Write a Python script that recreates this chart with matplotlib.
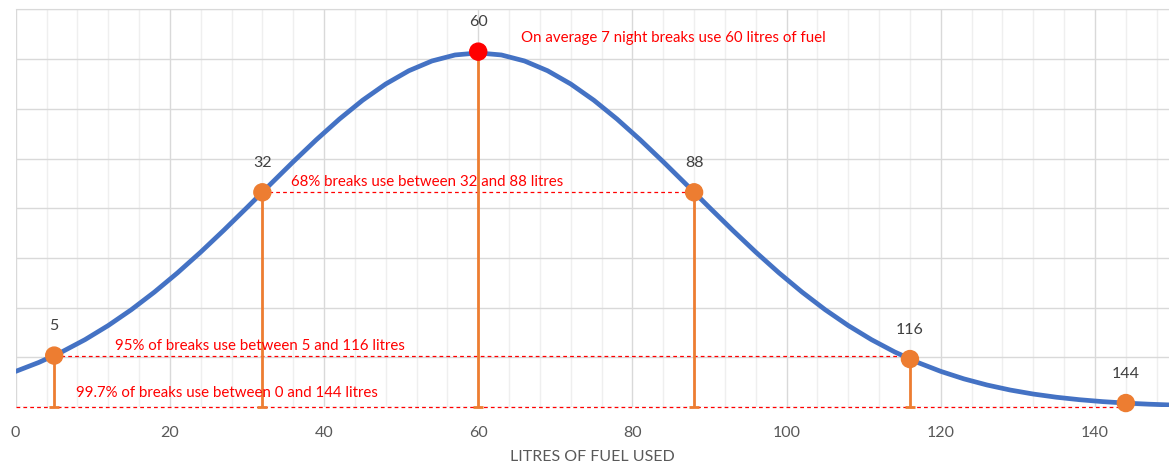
import matplotlib; matplotlib.use("Agg")
import matplotlib.pyplot as plt
from matplotlib.ticker import MultipleLocator

# curve (height in arbitrary density units x1000)
curve_x = [0, 3, 6, 9, 12, 15, 18, 21, 24, 27, 30, 33, 36, 39, 42, 45, 48, 51, 54, 57, 60,
           63, 66, 69, 72, 75, 78, 81, 84, 87, 90, 93, 96, 99, 102, 105, 108, 111, 114, 117, 120,
           123, 126, 129, 132, 135, 138, 141, 144, 147, 150]
curve_y = [1.434, 1.794, 2.219, 2.712, 3.278, 3.916, 4.626, 5.401, 6.234, 7.114, 8.025,
           8.951, 9.868, 10.755, 11.588, 12.344, 12.998, 13.531, 13.925, 14.167, 14.248,
           14.167, 13.925, 13.531, 12.998, 12.344, 11.588, 10.755, 9.868, 8.951, 8.025,
           7.114, 6.234, 5.401, 4.626, 3.916, 3.278, 2.712, 2.219, 1.794, 1.434,
           1.133, 0.886, 0.684, 0.522, 0.394, 0.294, 0.217, 0.158, 0.114, 0.081]

pt_x = [5, 32, 60, 88, 116, 144]
pt_y = [2.07, 8.64, 14.3, 8.64, 1.93, 0.16]
pt_lbl = ["5", "32", "60", "88", "116", "144"]
stem_x = [5, 32, 60, 88, 116]
stem_y = [2.07, 8.64, 14.3, 8.64, 1.93]

notes = ["On average 7 night breaks use 60 litres of fuel",
         "68% breaks use between 32 and 88 litres",
         "95% of breaks use between 5 and 116 litres",
         "99.7% of breaks use between 0 and 144 litres"]
note_x = [65.5, 35.7, 12.9, 7.8]
note_y = [14.85, 9.05, 2.45, 0.55]

# dashed range lines: (x start, x end, y)
range_x0 = [32, 5, 0]
range_x1 = [88, 116, 144]
range_y = [8.64, 2.07, 0]

plt.rcParams['font.family'] = ['Lato', 'DejaVu Sans']
BLUE, ORANGE, RED, GREY = "#4472C4", "#ED7D31", "#FF0000", "#595959"

fig = plt.figure(figsize=(11.69, 4.70), dpi=100)
ax = fig.add_axes([0.0134, 0.134, 0.9866, 0.846])

ax.plot(curve_x, curve_y, color=BLUE, lw=3.4, zorder=3, solid_capstyle="round",
        solid_joinstyle="round")

for x0, x1, y in zip(range_x0, range_x1, range_y):
    ax.plot([x0, x1], [y, y], color=RED, lw=0.9, ls=(0, (3, 2.5)), zorder=2, clip_on=False)

ax.vlines(stem_x, 0, stem_y, color=ORANGE, lw=2, zorder=2)
ax.plot(stem_x, [0] * len(stem_x), ls="none", marker="_", ms=7, mew=2, color=ORANGE, zorder=2,
        clip_on=False)

cols = [RED if x == 60 else ORANGE for x in pt_x]
ax.scatter(pt_x, pt_y, s=150, c=cols, zorder=4, clip_on=False)
for x, y, t in zip(pt_x, pt_y, pt_lbl):
    ax.annotate(t, (x, y), xytext=(0, 21), textcoords="offset points", ha="center",
                va="center", fontsize=11.5, color="#404040")

for t, x, y in zip(notes, note_x, note_y):
    ax.text(x, y, t, color=RED, fontsize=10.8, ha="left", va="center", zorder=5)

ax.set_xlim(0, 149.6)
ax.set_ylim(0, 16)
ax.xaxis.set_major_locator(MultipleLocator(20))
ax.xaxis.set_minor_locator(MultipleLocator(4))
ax.yaxis.set_major_locator(MultipleLocator(2))
ax.grid(which="major", color="#D9D9D9", lw=1)
ax.grid(which="minor", axis="x", color="#EFEFEF", lw=1)
ax.set_axisbelow(True)
ax.tick_params(length=0, which="both", labelsize=11.5, labelcolor=GREY, pad=14)
ax.tick_params(axis="y", labelleft=False)
for s in ["left", "bottom", "right"]:
    ax.spines[s].set_visible(False)
ax.spines["top"].set_color("#D9D9D9")
ax.set_xlabel("LITRES OF FUEL USED", fontsize=11.5, color=GREY, labelpad=7)

fig.savefig("out.png", dpi=100)
